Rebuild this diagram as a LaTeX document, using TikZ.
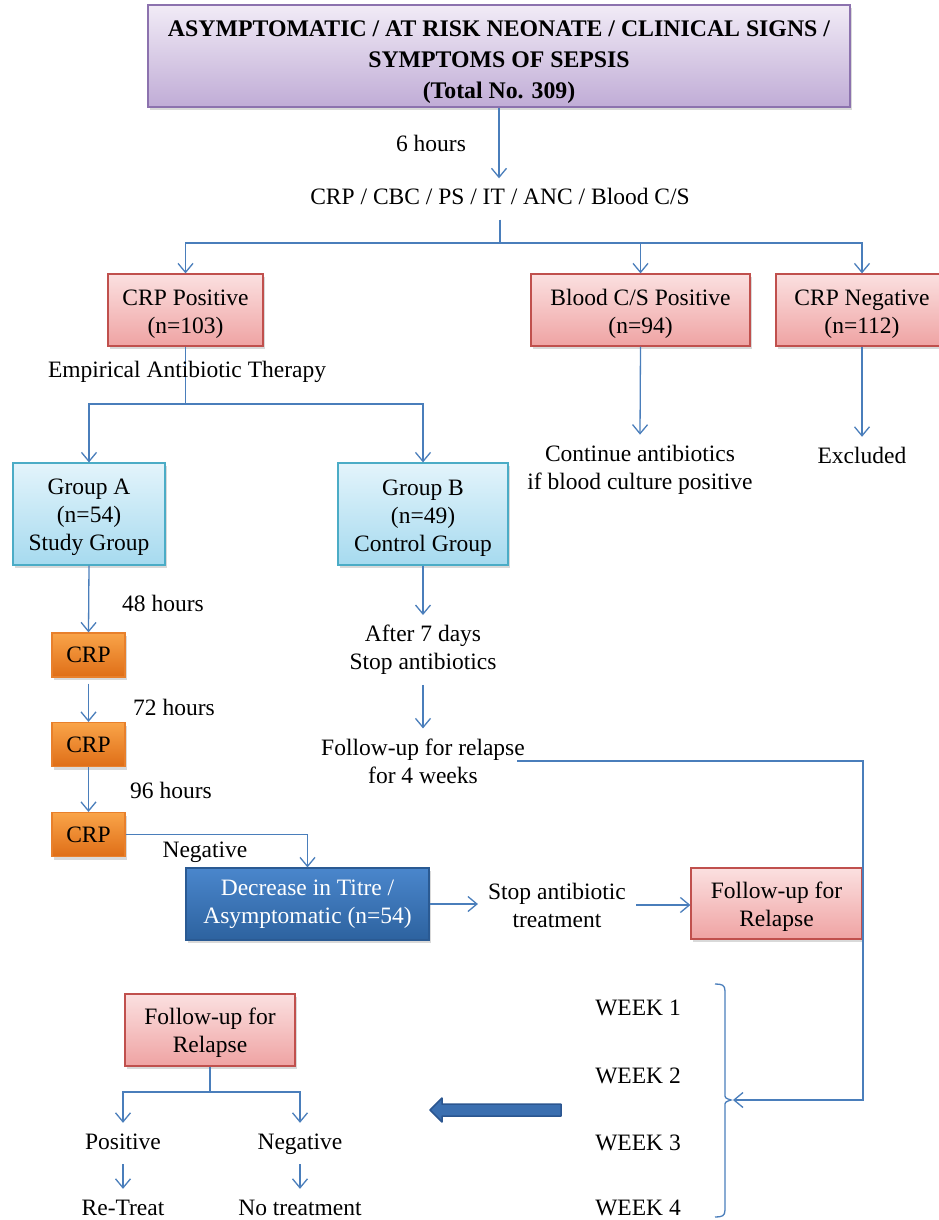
\documentclass[tikz,border=0pt]{standalone}
\usepackage{fontspec}
\setmainfont{Liberation Serif}
\usetikzlibrary{arrows.meta,shadows}
\definecolor{lnc}{HTML}{4A7EBB}
\definecolor{purT}{HTML}{F1EBF6}
\definecolor{purB}{HTML}{C0ACD6}
\definecolor{purD}{HTML}{8C72AE}
\definecolor{redT}{HTML}{FBE0E0}
\definecolor{redB}{HTML}{EFA3A3}
\definecolor{redD}{HTML}{C0504D}
\definecolor{cyT}{HTML}{E3F4FB}
\definecolor{cyB}{HTML}{A6DAEF}
\definecolor{cyD}{HTML}{4BACC6}
\definecolor{orT}{HTML}{F9A449}
\definecolor{orB}{HTML}{DF6E17}
\definecolor{orD}{HTML}{E8802C}
\definecolor{dbT}{HTML}{4A86CC}
\definecolor{dbB}{HTML}{2D629F}
\definecolor{dbD}{HTML}{2A5A93}
\definecolor{baF}{HTML}{3B6FB0}
\definecolor{baD}{HTML}{2B5690}
\newcommand{\lft}[1]{\rule{0pt}{#1}}
\begin{document}
\begin{tikzpicture}[x=1pt,y=-1pt,
  every node/.style={font=\fontsize{23.5}{28}\selectfont},
  conn/.style={draw=lnc,line width=1.3pt},
  arr/.style={conn,-{Straight Barb[length=9pt,width=15pt]}},
  lbl/.style={inner sep=10pt,align=center},
  one/.style={lbl,text height=16pt,text depth=5pt},
  boxbase/.style={line width=1.2pt,align=center,inner sep=0pt,
     drop shadow={opacity=0.3,shadow xshift=2pt,shadow yshift=-3pt}},
  pbox/.style={boxbase,draw=purD,top color=purT,bottom color=purB,
     font=\bfseries\fontsize{23.8}{31}\selectfont},
  rbox/.style={boxbase,draw=redD,top color=redT,bottom color=redB},
  cbox/.style={boxbase,draw=cyD,top color=cyT,bottom color=cyB},
  obox/.style={boxbase,draw=orD,top color=orT,bottom color=orB,
     minimum width=73pt,minimum height=44pt},
  dbox/.style={boxbase,draw=dbD,top color=dbT,bottom color=dbB,text=white},
]
\useasboundingbox (0,0) rectangle (938,1220);

% top
\node[pbox,minimum width=702pt,minimum height=102pt] (top) at (499,56)
  {\lft{29pt}ASYMPTOMATIC / AT RISK NEONATE / CLINICAL SIGNS /\\ SYMPTOMS OF SEPSIS\\ (Total No. 309)};
\node[lbl] (h6) at (431,143) {6 hours};
\node[one] (tests) at (500,199) {CRP / CBC / PS / IT / ANC / Blood C/S};
\draw[arr] (top.south) -- (top.south |- tests.north);

% second row
\node[rbox,minimum width=155pt,minimum height=72pt] (crpp) at (185.5,310) {\lft{24pt}CRP Positive\\(n=103)};
\node[rbox,minimum width=219pt,minimum height=72pt] (bcs) at (640.5,310) {\lft{24pt}Blood C/S Positive\\(n=94)};
\node[rbox,minimum width=172pt,minimum height=72pt] (crpn) at (862,310) {\lft{24pt}CRP Negative\\(n=112)};
\coordinate (j1) at (500,243);
\draw[conn] (tests.south) -- (j1);
\draw[arr] (j1) -| (crpp.north);
\draw[arr] (j1) -| (bcs.north);
\draw[arr] (j1) -| (crpn.north);

% right branches
\node[lbl] (cont) at (640,469.5) {Continue antibiotics\\if blood culture positive};
\node[one] (excl) at (862,457.5) {Excluded};
\draw[arr] (bcs.south) -- (cont.north);
\draw[arr] (crpn.south) -- (excl.north);

% groups
\coordinate (j2) at (185.5,404);
\draw[conn] (crpp.south) -- (j2);
\node[lbl] (emp) at (187,372) {Empirical Antibiotic Therapy};
\node[cbox,minimum width=152pt,minimum height=102pt] (gA) at (89,514) {\lft{23pt}Group A\\(n=54)\\Study Group};
\node[cbox,minimum width=170pt,minimum height=102pt] (gB) at (423,514) {\lft{23pt}Group B\\(n=49)\\Control Group};
\draw[arr] (j2) -| (gA.north);
\draw[arr] (j2) -| (gB.north);

% group A chain
\node[obox] (c1) at (88.5,655) {CRP};
\node[obox] (c2) at (88.5,744.5) {CRP};
\node[obox] (c3) at (88.5,834.5) {CRP};
\node[lbl] (h48) at (163,603) {48 hours};
\node[lbl] (h72) at (174,707) {72 hours};
\node[lbl] (h96) at (171,790) {96 hours};
\draw[arr] (gA.south) -- (c1.north);
\draw[arr] ([yshift=-6pt]c1.south) -- (c2.north);
\draw[arr] (c2.south) -- (c3.north);

\node[dbox,minimum width=243pt,minimum height=72pt] (dec) at (307.5,904) {Decrease in Titre /\\Asymptomatic (n=54)};
\node[one] (neg1) at (205,852) {Negative};
\draw[arr] (c3.east) -| (dec.north);

\node[lbl] (stop) at (557,905) {Stop antibiotic\\treatment};
\node[rbox,minimum width=171pt,minimum height=71pt] (fu1) at (776.5,903.5) {\lft{22pt}Follow-up for\\Relapse};
\draw[arr] (dec.east) -- (dec.east -| stop.west);
\draw[arr] (stop.east) -- (fu1.west |- stop.east);

% group B chain
\node[lbl] (after) at (423,650) {After 7 days\\Stop antibiotics};
\node[lbl] (fub) at (423,761) {Follow-up for relapse\\for 4 weeks};
\draw[arr] (gB.south) -- (after.north);
\draw[arr] (after.south) -- (fub.north);

% brace and weeks
\draw[conn] (715,984) .. controls (722,984) and (725,985) .. (725,991)
  -- (725,1094) .. controls (725,1098) .. (731,1100)
  .. controls (725,1102) .. (725,1106) -- (725,1210)
  .. controls (725,1216) and (722,1217) .. (715,1217);
\coordinate (bt) at (733,1100);
\coordinate (c4) at (863,1100);
\draw[arr] ([xshift=-18pt]fub.east) -| (c4) -- (bt);
\node[one] (w1) at (638,1009.5) {WEEK 1};
\node[one] (w2) at (638,1077.5) {WEEK 2};
\node[one] (w3) at (638,1144.5) {WEEK 3};
\node[one] (w4) at (638,1210) {WEEK 4};

% block arrow
\path[draw=baD,fill=baF,line width=1.5pt,line join=round]
  (561,1104) -- (442,1104) -- (442,1098) -- (430,1110) -- (442,1122)
  -- (442,1116) -- (561,1116) -- cycle;

% bottom left
\node[rbox,minimum width=170pt,minimum height=72pt] (fu2) at (210,1030) {\lft{22pt}Follow-up for\\Relapse};
\coordinate (j5) at (210,1092);
\node[one] (pos) at (123,1143.5) {Positive};
\node[one] (neg2) at (300,1143.5) {Negative};
\node[one] (ret) at (123,1209.5) {Re-Treat};
\node[one] (notr) at (300,1209.5) {No treatment};
\draw[conn] (fu2.south) -- (j5);
\draw[arr] (j5) -| (pos.north);
\draw[arr] (j5) -| (neg2.north);
\draw[arr] (pos.south) -- (ret.north);
\draw[arr] (neg2.south) -- (notr.north);
\end{tikzpicture}
\end{document}
